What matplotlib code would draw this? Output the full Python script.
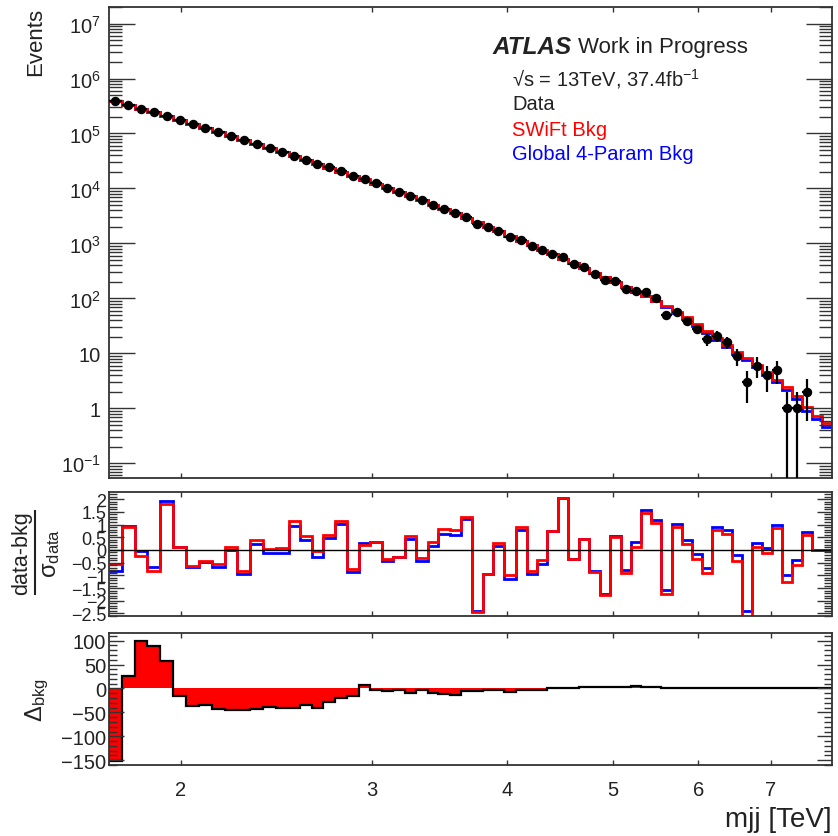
import numpy as np
import matplotlib
matplotlib.use('Agg')
import matplotlib.pyplot as plt
from matplotlib.ticker import (FixedLocator, NullLocator, MultipleLocator,
                               LogLocator, FuncFormatter, NullFormatter)
from matplotlib.lines import Line2D

plt.rcParams['font.family'] = ['Liberation Sans', 'DejaVu Sans']
plt.rcParams['mathtext.fontset'] = 'custom'
plt.rcParams['mathtext.rm'] = 'Liberation Sans'
plt.rcParams['mathtext.it'] = 'Liberation Sans:italic'
plt.rcParams['mathtext.bf'] = 'Liberation Sans:bold'

# bin edges [TeV]
edges = [1.717, 1.764, 1.813, 1.863, 1.915, 1.968, 2.022, 2.078, 2.135, 2.195,
         2.255, 2.318, 2.382, 2.448, 2.515, 2.575, 2.640, 2.704, 2.774, 2.845,
         2.919, 2.988, 3.063, 3.137, 3.218, 3.294, 3.377, 3.452, 3.541, 3.622,
         3.708, 3.795, 3.879, 3.971, 4.071, 4.167, 4.256, 4.348, 4.453, 4.549,
         4.656, 4.756, 4.869, 4.973, 5.087, 5.196, 5.308, 5.425, 5.542, 5.669,
         5.790, 5.915, 6.042, 6.171, 6.304, 6.443, 6.581, 6.723, 6.862, 7.010,
         7.160, 7.314, 7.471, 7.631, 7.795, 7.967]

data = [388644, 332424, 283683, 241701, 207327, 176655, 149352, 126650, 107013, 90810,
        76680, 64669, 54209, 45513, 38956, 33212, 28175, 24083, 20394, 17003,
        14575, 12337, 10344, 8703, 7408, 6054, 5081, 4293, 3556, 2999,
        2296, 1958, 1667, 1318, 1140, 895, 760, 654, 572, 427,
        367, 279, 214, 206, 151, 136, 128, 101, 50, 56,
        39, 28, 18, 21, 16, 9, 3, 6, 4, 5,
        1, 1, 2, 0, 0]

bkg_swift = [389000, 331900, 283800, 242100, 206500, 176600, 149600, 126800, 107200, 90780,
             76910, 64570, 54200, 45500, 38730, 33110, 28180, 23990, 20230, 17100,
             14550, 12300, 10380, 8730, 7360, 6080, 5060, 4240, 3510, 2930,
             2415, 2000, 1656, 1355, 1109, 920, 771, 635, 525, 434,
             359, 294, 242, 199, 163, 135, 112, 91.2, 71.9, 56.8,
             45.2, 33.7, 25.1, 18.7, 14.1, 10.7, 8.15, 6.12, 4.51, 3.29,
             2.40, 1.68, 1.05, 0.74, 0.55]

bkg_global = [389150, 331880, 283700, 242040, 206450, 176600, 149620, 126820, 107240, 90810,
              76950, 64610, 54240, 45540, 38770, 33140, 28220, 24010, 20250, 17120,
              14540, 12300, 10390, 8730, 7370, 6090, 5070, 4250, 3520, 2935,
              2414, 2000, 1660, 1360, 1113, 925, 775, 635, 525, 434,
              359, 293, 241, 198, 161, 133, 111, 90.0, 70.6, 54.0,
              42.8, 31.8, 23.6, 17.5, 13.1, 9.9, 7.5, 5.6, 4.1, 2.95,
              2.13, 1.47, 0.91, 0.63, 0.45]

sig_swift = [-0.57, 0.91, -0.22, -0.81, 1.82, 0.13, -0.64, -0.42, -0.57, 0.10,
             -0.83, 0.39, 0.04, 0.06, 1.15, 0.56, -0.03, 0.60, 1.15, -0.74,
             0.21, 0.33, -0.35, -0.29, 0.56, -0.33, 0.30, 0.82, 0.78, 1.28,
             -2.43, -0.94, 0.27, -1.00, 0.92, -0.81, -0.39, 0.76, 2.06, -0.35,
             0.43, -0.87, -1.78, 0.49, -0.90, 0.10, 1.47, 1.05, -1.73, 0.91,
             0.23, -0.35, -0.90, 0.80, 0.63, -0.42, -2.64, 0.12, -0.11, 0.85,
             -1.26, -0.61, 0.59, 0.0, 0.0]

sig_global = [-0.81, 0.94, -0.03, -0.68, 1.93, 0.13, -0.68, -0.48, -0.68, 0.00,
              -0.96, 0.23, -0.12, -0.12, 0.95, 0.40, -0.26, 0.47, 1.04, -0.87,
              0.26, 0.30, -0.42, -0.29, 0.43, -0.42, 0.14, 0.61, 0.57, 1.21,
              -2.40, -0.94, 0.17, -1.13, 0.79, -0.96, -0.55, 0.76, 2.06, -0.35,
              0.43, -0.81, -1.72, 0.53, -0.77, 0.30, 1.57, 1.16, -1.58, 1.03,
              0.40, -0.16, -0.71, 0.89, 0.78, -0.21, -2.40, 0.28, 0.08, 0.98,
              -1.00, -0.39, 0.70, 0.0, 0.0]

delta_bkg = [-152, 26, 99, 89, 57, -15, -36, -35, -42, -45,
             -44, -42, -39, -40, -40, -35, -40, -28, -20, -16,
             7, -3, -5, -4, -10, -4, -10, -12, -13, -6,
             -5, -3, -3, -7, -4, -3, -3, 0, 1, 2,
             3, 3, 3, 4, 4, 5, 4, 3, 2, 2,
             1.5, 1.2, 1.0, 0.9, 0.8, 0.7, 0.6, 0.5, 0.4, 0.4,
             0.3, 0.3, 0.2, 0.2, 0.1]

xticks = [2, 3, 4, 5, 6, 7]

W, H = 838, 837
def fx(px):
    return px / W
def fy(py):
    return 1 - py / H

edges = np.array(edges)
data = np.array(data, dtype=float)
frame = '#333333'

fig = plt.figure(figsize=(W / 100, H / 100), dpi=100)
ax1 = fig.add_axes([fx(109), fy(479), fx(832) - fx(109), fy(8) - fy(479)])
ax2 = fig.add_axes([fx(109), fy(617), fx(832) - fx(109), fy(493) - fy(617)])
ax3 = fig.add_axes([fx(109), fy(766), fx(832) - fx(109), fy(634) - fy(766)])

for ax in (ax1, ax2, ax3):
    ax.set_xscale('log')
    ax.set_xlim(edges[0], edges[-1])
    ax.xaxis.set_major_locator(FixedLocator(xticks))
    ax.xaxis.set_minor_locator(NullLocator())
    ax.xaxis.set_minor_formatter(NullFormatter())
    for s in ax.spines.values():
        s.set_color(frame)
        s.set_linewidth(1.3)
    ax.tick_params(which='both', direction='in', top=True, right=True,
                   colors=frame, labelcolor='#222222', labelsize=14.5, width=1)
    ax.tick_params(axis='x', which='major', length=3.6, pad=11)

# top panel
ax1.set_yscale('log', nonpositive='clip')
ax1.set_ylim(0.054, 2e7)
ax1.stairs(bkg_global, edges, color='blue', lw=2, baseline=None)
ax1.stairs(bkg_swift, edges, color='red', lw=2, baseline=None)
ok = data > 0
lo, hi = edges[:-1], edges[1:]
cen = 0.5 * (lo + hi)
ax1.errorbar(cen[ok], data[ok], yerr=np.sqrt(data[ok]),
             xerr=[cen[ok] - lo[ok], hi[ok] - cen[ok]],
             fmt='o', color='black', ms=5.8, lw=1.6, capsize=0, zorder=5)
ax1.yaxis.set_major_locator(LogLocator(base=10, numticks=20))
ax1.yaxis.set_minor_locator(LogLocator(base=10, subs=np.arange(2, 10), numticks=20))
ax1.yaxis.set_minor_formatter(NullFormatter())

def logfmt(v, pos):
    e = int(round(np.log10(v)))
    if e == 0:
        return '1'
    if e == 1:
        return '10'
    return r'$10^{%d}$' % e

ax1.yaxis.set_major_formatter(FuncFormatter(logfmt))
ax1.tick_params(axis='y', which='major', length=18.7, pad=6)
ax1.tick_params(axis='y', which='minor', length=9.4)
ax1.xaxis.set_major_formatter(NullFormatter())

# significance panel
ax2.stairs(sig_global, edges, color='blue', lw=2, baseline=None)
ax2.stairs(sig_swift, edges, color='red', lw=2, baseline=None)
ax2.axhline(0, color='black', lw=1)
ax2.set_ylim(-2.6, 2.28)
ax2.yaxis.set_major_locator(MultipleLocator(0.5))
ax2.yaxis.set_minor_locator(MultipleLocator(0.1))

def linfmt(v, pos):
    v = round(v, 2)
    if v == 0:
        return '0'
    return ('%g' % v).replace('-', '\u2212')

ax2.yaxis.set_major_formatter(FuncFormatter(linfmt))
ax2.tick_params(axis='y', which='major', length=10.5, pad=2, labelsize=13)
ax2.tick_params(axis='y', which='minor', length=5.5)
ax2.xaxis.set_major_formatter(NullFormatter())

# delta bkg panel
ax3.stairs(delta_bkg, edges, fill=True, color='red', baseline=0)
ax3.stairs(delta_bkg, edges, color='black', lw=1.6, baseline=None)
ax3.set_ylim(-160, 116)
ax3.yaxis.set_major_locator(MultipleLocator(50))
ax3.yaxis.set_minor_locator(MultipleLocator(10))
ax3.yaxis.set_major_formatter(FuncFormatter(linfmt))
ax3.tick_params(axis='y', which='major', length=10.5, pad=2)
ax3.tick_params(axis='y', which='minor', length=5.5)
ax3.xaxis.set_major_formatter(FuncFormatter(lambda v, p: '%g' % v))

# labels
fig.text(fx(36), fy(8), 'Events', rotation=90, ha='center', va='top',
         fontsize=16, color='#222222')
fig.text(fx(832), fy(820), 'mjj [TeV]', ha='right', va='center',
         fontsize=20, color='#222222')
fig.text(fx(22), fy(553), 'data-bkg', rotation=90, ha='center', va='center',
         fontsize=15.5, color='#222222')
fig.add_artist(Line2D([fx(35), fx(35)], [fy(512), fy(595)],
                      transform=fig.transFigure, color='#222222', lw=1.5))
fig.text(fx(51), fy(553), r'$\mathrm{σ}_{\mathrm{data}}$', rotation=90,
         ha='center', va='center', fontsize=17, color='#222222')
fig.text(fx(37), fy(700), r'$\mathrm{Δ}_{\mathrm{bkg}}$', rotation=90,
         ha='center', va='center', fontsize=17, color='#222222')

# ATLAS legend block
fig.text(fx(493), fy(48), 'ATLAS', fontsize=17.5, fontweight='bold',
         fontstyle='italic', ha='left', va='center', color='#222222')
fig.text(fx(578), fy(48), 'Work in Progress', fontsize=16, ha='left',
         va='center', color='#222222')
fig.text(fx(512), fy(79), '\u221as = 13TeV, 37.4fb$^{\\mathrm{-1}}$', fontsize=14.5,
         ha='left', va='center', color='#222222')
fig.text(fx(512), fy(105), 'Data', fontsize=14.5, ha='left', va='center',
         color='#222222')
fig.text(fx(512), fy(130), 'SWiFt Bkg', fontsize=14.5, ha='left', va='center',
         color='red')
fig.text(fx(512), fy(155), 'Global 4-Param Bkg', fontsize=14.5, ha='left',
         va='center', color='blue')

fig.savefig('out.png', dpi=100)
